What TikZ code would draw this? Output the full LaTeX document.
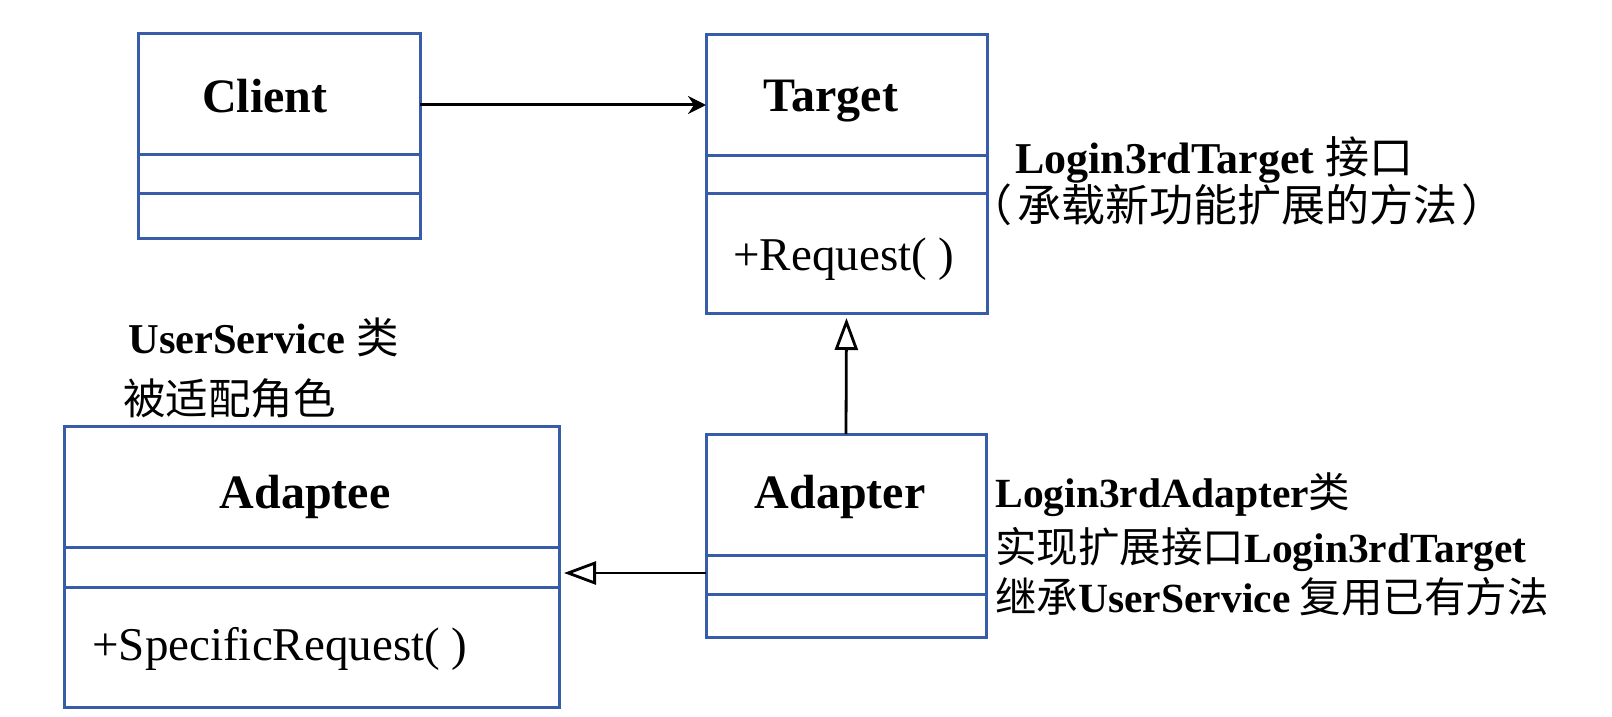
\documentclass[tikz,border=0pt]{standalone}
\usepackage{fontspec}
\setmainfont{Liberation Serif}
\newfontfamily\cjk{Noto Sans CJK SC}
\newcommand\mylat[1]{{\rmfamily\bfseries #1}}
\usetikzlibrary{arrows.meta}
\definecolor{umlblue}{RGB}{55,92,168}
\begin{document}
\begin{tikzpicture}[x=0.5pt,y=-0.5pt,
  cls/.style={draw=umlblue,line width=1.5pt,rectangle,inner sep=0pt,outer sep=0pt},
  div/.style={draw=umlblue,line width=1.5pt},
  title/.style={font=\fontsize{24}{28}\selectfont\bfseries,inner sep=0pt,anchor=base},
  member/.style={font=\fontsize{23.5}{28}\selectfont,inner sep=0pt,anchor=base west},
  note/.style={inner sep=0pt,anchor=base west},
  assoc/.style={line width=1.5pt,-{Stealth[length=9pt,width=9pt,inset=3pt]}},
  gen/.style={line width=1.4pt,-{Triangle[open,length=16pt,width=11.5pt,line width=1.4pt]},shorten >=2.5pt}
]
\useasboundingbox[fill=white] (0,0) rectangle (1612,717);

% class boxes
\node[cls,minimum width=141pt,minimum height=102pt] (client) at (279,136) {};
\node[cls,minimum width=140.5pt,minimum height=139pt] (target) at (846.5,174) {};
\node[cls,minimum width=247.5pt,minimum height=140.5pt] (adaptee) at (311.5,566.5) {};
\node[cls,minimum width=140pt,minimum height=101.5pt] (adapter) at (846,535.5) {};

% dividers
\coordinate (c1) at (0,155); \coordinate (c2) at (0,193);
\draw[div] (client.west |- c1) -- (client.east |- c1);
\draw[div] (client.west |- c2) -- (client.east |- c2);
\coordinate (t1) at (0,156); \coordinate (t2) at (0,193);
\draw[div] (target.west |- t1) -- (target.east |- t1);
\draw[div] (target.west |- t2) -- (target.east |- t2);
\coordinate (e1) at (0,547); \coordinate (e2) at (0,587);
\draw[div] (adaptee.west |- e1) -- (adaptee.east |- e1);
\draw[div] (adaptee.west |- e2) -- (adaptee.east |- e2);
\coordinate (p1) at (0,555); \coordinate (p2) at (0,594);
\draw[div] (adapter.west |- p1) -- (adapter.east |- p1);
\draw[div] (adapter.west |- p2) -- (adapter.east |- p2);

% titles and members
\node[title] (clientname) at (265,113) {Client};
\node[title] (targetname) at (831,112) {Target};
\node[member] (request) at (733,270) {+Request( )};
\node[title] (adapteename) at (305,508) {Adaptee};
\node[member] (specific) at (92,660) {+SpecificRequest( )};
\node[title] (adaptername) at (840,508) {Adapter};

% notes
\node[note,font=\fontsize{22}{26}\selectfont] (n1) at (1015,173) {\mylat{Login3rdTarget} \cjk 接口};
\node[note,font=\fontsize{22}{26}\selectfont\cjk] (n2) at (968,221) {（\hspace{2.5pt}承载新功能扩展的方法\hspace{2pt}）};
\node[note,font=\fontsize{21.25}{26}\selectfont] (u1) at (128,353) {\mylat{UserService} \cjk 类};
\node[note,font=\fontsize{21.25}{26}\selectfont\cjk] (u2) at (123,414) {被适配角色};
\node[note,font=\fontsize{20.75}{26}\selectfont] (m1) at (995,507) {\mylat{Login3rdAdapter}\cjk 类};
\node[note,font=\fontsize{20.75}{26}\selectfont] (m2) at (995,562) {\cjk 实现扩展接口\mylat{Login3rdTarget}};
\node[note,font=\fontsize{20.75}{26}\selectfont] (m3) at (995,612) {\cjk 继承\mylat{UserService} 复用已有方法};

% connectors
\coordinate (a1) at (0,105);
\draw[assoc] (client.east |- a1) -- (target.west |- a1);
\draw[gen] (adapter.north) -- (target.south);
\coordinate (a2) at (0,573);
\draw[gen] (adapter.west |- a2) -- (adaptee.east |- a2);
\end{tikzpicture}
\end{document}
